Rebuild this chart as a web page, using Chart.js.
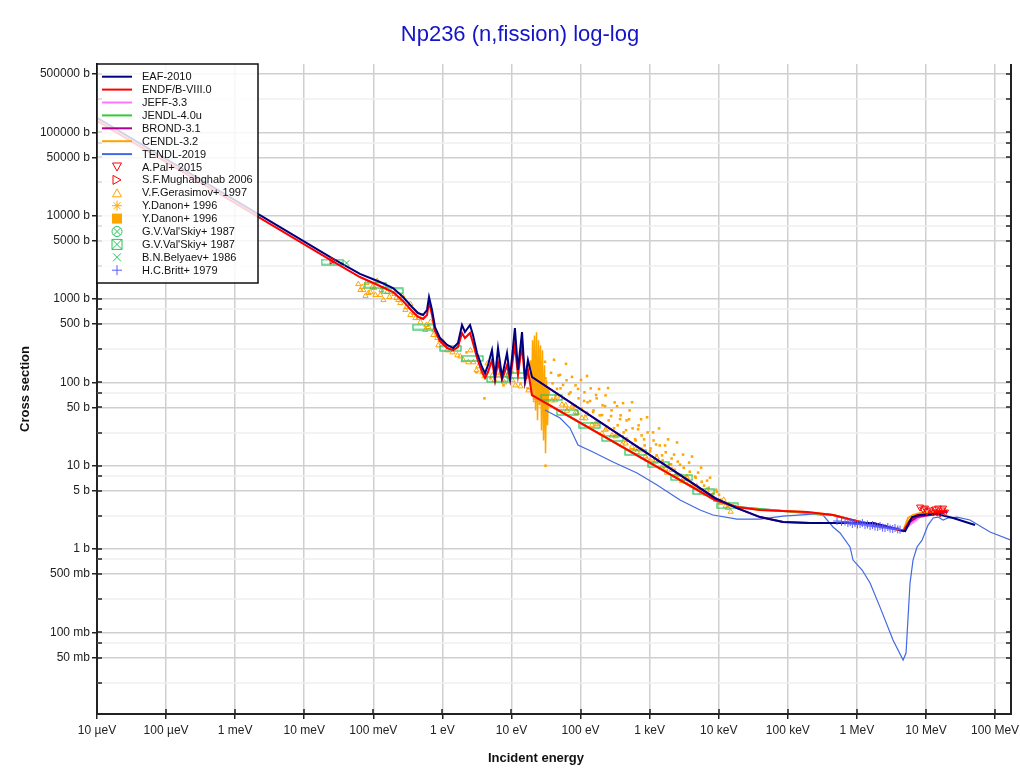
<!DOCTYPE html>
<html>
<head>
<meta charset="utf-8">
<title>Np236 (n,fission)</title>
<script src="https://cdn.jsdelivr.net/npm/chart.js@4.4.1/dist/chart.umd.min.js"></script>
<style>
  html, body { margin: 0; padding: 0; background: #fff; }
  #wrap { width: 1020px; height: 774px; }
</style>
</head>
<body>
<div id="wrap"><canvas id="chart" width="1020" height="774"></canvas></div>
<script>
// ── Axes ──────────────────────────────────────────────────
const X_MIN = 1e-5, X_MAX = 1.7e8;
const Y_MIN = 0.0105, Y_MAX = 6.6e5;
const xTickValues = [1e-5, 1e-4, 1e-3, 1e-2, 1e-1, 1, 10, 100, 1e3, 1e4, 1e5, 1e6, 1e7, 1e8];
const xTickLabels = ["10 µeV", "100 µeV", "1 meV", "10 meV", "100 meV", "1 eV", "10 eV", "100 eV", "1 keV", "10 keV", "100 keV", "1 MeV", "10 MeV", "100 MeV"];
const yTickValues = [5e5, 1e5, 5e4, 1e4, 5e3, 1e3, 500, 100, 50, 10, 5, 1, 0.5, 0.1, 0.05];
const yTickLabels = ["500000 b", "100000 b", "50000 b", "10000 b", "5000 b", "1000 b", "500 b", "100 b", "50 b", "10 b", "5 b", "1 b", "500 mb", "100 mb", "50 mb"];
const yMinorTicks = [2.5e5, 7.5e4, 2.5e4, 7500, 2500, 750, 250, 75, 25, 7.5, 2.5, 0.75, 0.25, 0.075, 0.025];

// ── Evaluations (energy in eV, cross section in b) ────────
const eafE  = [1e-5, 0.0252, 0.064, 0.125, 0.193, 0.269, 0.363, 0.444, 0.524, 0.598, 0.640, 0.707, 0.781, 0.923, 1.17, 1.43, 1.68, 1.92, 2.12, 2.51, 2.77, 3.17, 3.74, 4.14, 4.57, 5.22, 5.77, 6.38, 7.29, 8.61, 9.53, 11.2, 12.4, 14.2, 15.7, 17.3, 19.8, 8830, 1.84e4, 3.96e4, 8.53e4, 2.09e5, 1.71e6, 4.98e6, 6.28e6, 8.2e6, 1.45e7, 2.47e7, 5.13e7];
const eafXs = [1.49e5, 3100, 2000, 1600, 1355, 1057, 802, 679, 643, 738, 1057, 738, 461, 340, 281, 258, 297, 488, 402, 488, 370, 225, 153, 129, 161, 244, 116, 258, 116, 225, 116, 449, 141, 402, 107, 185, 116, 4.09, 3.10, 2.42, 2.11, 2.05, 2.05, 1.64, 2.42, 2.56, 2.63, 2.36, 1.94];

const endfE  = [1e-5, 0.0252, 0.064, 0.125, 0.193, 0.269, 0.363, 0.444, 0.524, 0.598, 0.640, 0.707, 0.781, 0.923, 1.17, 1.43, 1.68, 1.92, 2.12, 2.51, 2.77, 3.17, 3.74, 4.14, 4.57, 5.22, 5.77, 6.38, 7.29, 8.61, 9.53, 11.2, 12.4, 14.2, 15.7, 17.3, 19.8, 8830, 1.84e4, 3.96e4, 8.53e4, 1.90e5, 4.51e5, 1.11e6, 2.73e6, 4.66e6, 5.87e6, 7.41e6, 1.15e7, 2.02e7];
const endfXs = [1.37e5, 2860, 1837, 1432, 1213, 946, 718, 608, 575, 643, 920, 643, 413, 313, 258, 244, 265, 391, 340, 391, 297, 196, 133, 113, 133, 185, 107, 175, 107, 161, 107, 281, 122, 281, 100, 141, 70.5, 3.87, 3.19, 2.94, 2.86, 2.78, 2.56, 2.11, 1.84, 1.64, 2.23, 2.56, 2.63, 2.86];

const jeffE  = [19.8, 8830, 1.84e4, 8.53e4, 4.51e5, 1.11e6, 2.73e6, 4.66e6, 6.28e6, 8.2e6, 1.15e7, 2.02e7];
const jeffXs = [70.5, 3.87, 3.19, 2.86, 2.56, 2.11, 1.84, 1.66, 2.05, 2.42, 2.60, 2.80];

const jendlE  = [19.8, 8830, 1.84e4, 8.53e4, 4.51e5, 1.11e6, 2.73e6, 4.66e6, 5.87e6, 7.41e6, 1.15e7, 2.02e7];
const jendlXs = [70.5, 3.87, 3.19, 2.86, 2.56, 2.11, 1.84, 1.64, 2.23, 2.56, 2.63, 2.86];

const brondE  = [19.8, 8830, 1.84e4, 3.96e4, 8.53e4, 2.09e5, 1.71e6, 4.98e6, 5.87e6, 7.41e6, 1.15e7, 2.02e7];
const brondXs = [116, 4.09, 3.10, 2.42, 2.11, 2.05, 2.05, 1.64, 2.11, 2.42, 2.56, 2.78];

const cendlE  = [19.8, 8830, 1.84e4, 3.96e4, 8.53e4, 1.90e5, 4.51e5, 1.11e6, 2.73e6, 4.66e6, 5.5e6, 6.49e6, 8.2e6, 1.15e7, 2.02e7];
const cendlXs = [70.5, 3.87, 3.19, 2.94, 2.86, 2.78, 2.56, 2.11, 1.84, 1.64, 2.36, 2.56, 2.70, 2.78, 2.86];

const tendlE  = [30.5, 50.4, 70.3, 91.8, 151, 295, 656, 1280, 2750, 5360, 8270, 1.84e4, 3.96e4, 8.53e4, 2.32e5, 3.23e5, 4.51e5, 5.70e5, 7.95e5, 8.79e5, 1.19e6, 1.55e6, 2.16e6, 3.33e6, 4.66e6, 5.14e6, 5.87e6, 6.49e6, 7.41e6, 8.77e6, 1.07e7, 1.27e7, 1.49e7, 1.77e7, 2.08e7, 2.81e7, 4.34e7, 8.45e7, 1.70e8];
const tendlXs = [46.6, 37.3, 28.3, 17.7, 14.6, 11.1, 8.17, 5.86, 3.87, 2.94, 2.56, 2.29, 2.29, 2.49, 2.63, 2.56, 1.84, 1.56, 1.06, 0.738, 0.56, 0.391, 0.201, 0.0809, 0.0466, 0.0565, 0.391, 0.738, 1.06, 1.28, 1.94, 2.36, 2.42, 2.23, 2.36, 2.42, 2.23, 1.60, 1.28];

// ── Experiments (EXFOR) ───────────────────────────────────
const palE  = [8.20e6, 9.06e6, 9.68e6, 1.035e7, 1.15e7, 1.27e7, 1.35e7, 1.45e7, 1.49e7, 1.60e7, 1.71e7, 1.77e7, 1.89e7];
const palXs = [3.19, 3.02, 3.10, 2.86, 2.94, 2.78, 3.02, 2.78, 3.10, 2.70, 2.94, 3.10, 2.78];

const mughE  = [0.0253];
const mughXs = [2900];

const gerE  = [0.0606, 0.065, 0.069, 0.0716, 0.077, 0.0792, 0.085, 0.0905, 0.097, 0.103, 0.107, 0.114, 0.126, 0.131, 0.14, 0.149, 0.159, 0.171, 0.189, 0.2015, 0.215, 0.230, 0.246, 0.263, 0.291, 0.301, 0.343, 0.344, 0.393, 0.406, 0.449, 0.48, 0.513, 0.566, 0.586, 0.626, 0.669, 0.739, 0.764, 0.845, 0.873, 0.935, 1.03, 1.18, 1.40, 1.65, 1.82, 2.01, 2.38, 2.54, 2.81, 3.11, 3.32, 3.79, 4.06, 4.49, 5.3, 5.66, 6.9, 7.92, 8.8, 10.3, 11.4, 13.5, 17.6, 22.3,
  32.7, 38.6, 43, 45.6, 53.8, 61, 63.6, 75.1, 85, 88.7, 104.7, 118, 123.7, 146.1, 165, 172.5, 203.7, 230, 240.6, 284.2, 320, 335.6, 396.3, 450, 468.1, 552.8, 626, 652.9, 771, 870, 910.6, 1075, 1220, 1270, 1500, 1700, 1771, 2092, 2380, 2471, 2918, 3320, 3446, 4070, 4650, 4806, 5676, 6480, 6703, 7917, 9030, 1.07e4, 1.18e4, 1.26e4, 1.35e4, 1.4e4, 1.49e4];
const gerXs = [1510, 1280, 1390, 1280, 1090, 1560, 1180, 1210, 1390, 1355, 1120, 1644, 1120, 1282, 970, 1432, 1210, 1057, 1280, 1148, 1030, 973, 895, 1086, 740, 802, 643, 871, 679, 590, 592, 529, 625, 425, 488, 461, 530, 370, 425, 340, 278, 322, 302, 242, 229, 211, 205, 184, 174, 242, 174, 139, 156, 132, 118, 169, 121, 106, 128, 100, 121, 106, 92, 89.5, 80.2, 61,
  75.9, 60.7, 61, 67.6, 54.1, 53, 45.7, 50.9, 44, 43.0, 37.3, 37, 41.6, 30.6, 32, 31.4, 24.4, 27, 27.9, 23.0, 22.5, 22.9, 17.8, 18.5, 20.4, 16.8, 15.7, 14.6, 15.3, 12.9, 11.9, 12.2, 11.2, 12.5, 9.48, 9.2, 8.24, 8.92, 7.6, 7.75, 6.55, 6.4, 7.29, 5.83, 5.4, 5.65, 4.78, 4.6, 5.04, 4.26, 3.9, 3.6, 3.9, 3.3, 3.1, 3.4, 2.8];

const danLineE  = [18.85, 19.5, 20.2, 20.8, 21.5, 22.3, 23.0, 23.8, 24.6, 25.4, 26.3, 27.2, 28.1, 29.1, 30.1, 31.1, 32.1, 33.2, 34.4];
const danLineXs = [184, 69.8, 319, 60.8, 366, 46.1, 398, 35.0, 319, 53.0, 278, 26.5, 242, 20.1, 160, 14.1, 106, 30.5, 84.7];

const danE  = [26.3, 31.1, 34.4, 39.3, 43.4, 47.9, 51.3, 56.6, 62.6, 71.5, 76.4, 84.5, 93.4, 103, 114, 126, 140, 154, 171, 189, 208, 230, 255, 281, 311, 344, 380, 420, 464, 513, 566, 626, 692, 764, 845, 934, 1030, 1140, 1260, 1400, 1540, 1710, 1890, 2080, 2300, 2550, 2810, 3110, 3440, 3800, 4200, 4640, 5130, 5660, 6260, 7150, 8170, 9340, 1.07e4, 2.23, 3.11, 4.06, 4.96, 7.66, 10.3, 13.5, 17.1, 31.1,
  27.66, 30.57, 33.79, 37.34, 41.27, 45.61, 50.41, 55.71, 61.57, 68.05, 75.21, 83.12, 91.86, 101.5, 112.2, 124.0, 137.1, 151.5, 167.4, 185.0, 204.5, 226.0, 249.8, 276.1, 305.1, 337.2, 372.7, 411.9, 455.2, 503.1, 556.0, 614.5, 679.2, 750.6, 829.6, 916.9, 1013, 1120, 1238, 1368, 1512, 1671, 1847, 2041, 2256, 2493, 2755, 3045, 3366, 3720, 4111, 4544, 5022, 5550, 6134, 6779, 7492, 8280, 9151, 10114];
const danXs = [92.1, 111.7, 75.9, 97.3, 69.8, 121, 84.7, 64.3, 106, 75.9, 53.0, 92.1, 64.3, 48.8, 75.9, 57.5, 84.7, 46.1, 64.3, 40.2, 53.0, 69.8, 35.0, 46.1, 57.5, 30.5, 40.2, 25.1, 35.0, 46.1, 28.1, 20.1, 30.5, 23.1, 17.5, 25.1, 16.1, 20.1, 13.3, 17.5, 11.6, 14.5, 10.3, 12.2, 8.95, 11.2, 7.80, 9.46, 6.79, 8.47, 5.92, 7.18, 5.15, 6.43, 4.49, 5.44, 4.13, 4.88, 3.91, 229, 132, 64.3, 112, 92.1, 132, 97.3, 84.7, 10,
  126.9, 176.7, 81.5, 130.3, 186.5, 83.6, 123.1, 93.3, 166.7, 72.7, 116.3, 52.2, 83.4, 106.9, 59.8, 119.3, 59.7, 44.1, 70.5, 83.1, 40.5, 51.9, 85.4, 39.4, 28.2, 51.8, 36.2, 56.3, 26.7, 36.1, 57.8, 20.8, 27.4, 36.1, 20.7, 38.1, 14.9, 25.1, 18.0, 28.0, 13.3, 17.5, 20.7, 10.4, 13.6, 19.0, 10.3, 13.6, 7.42, 10.9, 12.9, 7.41, 8.27, 9.49, 5.77, 6.62, 7.19, 4.62, 5.15, 4.49];

const valCircE  = [0.0253];
const valCircXs = [2750];

const valBoxE  = [0.0253, 0.107, 0.189, 0.53, 1.31, 2.72, 6.26, 12.2, 38, 64.7, 135, 291, 626, 1350, 2910, 6050, 1.35e4];
const valBoxXs = [2780, 1470, 1250, 461, 256, 194, 109, 121, 66, 43.6, 30.5, 21.3, 14.5, 10.3, 7.2, 4.9, 3.3];

const belE  = [0.041];
const belXs = [2700];

const brittE  = [5.15e5, 6.0e5, 6.73e5, 7.4e5, 8.0e5, 8.6e5, 9.4e5, 1.02e6, 1.11e6, 1.2e6, 1.31e6, 1.42e6, 1.55e6, 1.68e6, 1.83e6, 2.0e6, 2.16e6, 2.35e6, 2.55e6, 2.8e6, 3.02e6, 3.3e6, 3.56e6, 3.9e6, 4.21e6];
const brittXs = [2.17, 2.11, 2.14, 2.05, 2.11, 2.0, 2.05, 1.97, 2.0, 2.05, 1.94, 1.97, 1.89, 1.94, 1.86, 1.84, 1.89, 1.81, 1.79, 1.84, 1.76, 1.74, 1.79, 1.72, 1.71];

// ── Helpers ───────────────────────────────────────────────
const FONT = "'Liberation Sans', Arial, Helvetica, sans-serif";
const ORANGE = "#ffa500", GREEN = "#25c45a";
const toPoints = (xs, ys) => xs.map((x, i) => ({ x, y: ys[i] }));
const labelFor = (vals, labels, v) => {
  const i = vals.findIndex((t) => Math.abs(t - v) / t < 1e-6);
  return i < 0 ? "" : labels[i];
};

function makeBox(w, h, color) {
  const c = document.createElement("canvas");
  c.width = w; c.height = h;
  const g = c.getContext("2d");
  g.strokeStyle = color; g.lineWidth = 1.2;
  g.strokeRect(1, 1, w - 2, h - 2);
  return c;
}

function lineSet(label, xs, ys, color, width, order) {
  return { label, data: toPoints(xs, ys), showLine: true, borderColor: color, backgroundColor: color,
    borderWidth: width, pointRadius: 0, pointHoverRadius: 0, tension: 0, order, mark: "line" };
}
function markSet(label, xs, ys, mark, color, opts) {
  return Object.assign({ label, data: toPoints(xs, ys), showLine: false, borderColor: color,
    backgroundColor: "rgba(0,0,0,0)", borderWidth: 1, pointHoverRadius: 0, mark, markColor: color }, opts);
}

function drawMarker(g, mark, x, y, color) {
  g.save();
  g.strokeStyle = color; g.fillStyle = color; g.lineWidth = 1;
  g.beginPath();
  if (mark === "triDown") { g.moveTo(x - 4.5, y - 4); g.lineTo(x + 4.5, y - 4); g.lineTo(x, y + 4); g.closePath(); g.stroke(); }
  else if (mark === "triRight") { g.moveTo(x - 4, y - 4.5); g.lineTo(x - 4, y + 4.5); g.lineTo(x + 4, y); g.closePath(); g.stroke(); }
  else if (mark === "triUp") { g.moveTo(x - 4.5, y + 4); g.lineTo(x + 4.5, y + 4); g.lineTo(x, y - 4); g.closePath(); g.stroke(); }
  else if (mark === "star") {
    g.moveTo(x - 5, y); g.lineTo(x + 5, y); g.moveTo(x, y - 5); g.lineTo(x, y + 5);
    g.moveTo(x - 3.5, y - 3.5); g.lineTo(x + 3.5, y + 3.5); g.moveTo(x - 3.5, y + 3.5); g.lineTo(x + 3.5, y - 3.5); g.stroke();
  }
  else if (mark === "square") { g.fillRect(x - 5, y - 5, 10, 10); }
  else if (mark === "circX") {
    g.arc(x, y, 5, 0, Math.PI * 2); g.moveTo(x - 3.5, y - 3.5); g.lineTo(x + 3.5, y + 3.5);
    g.moveTo(x - 3.5, y + 3.5); g.lineTo(x + 3.5, y - 3.5); g.stroke();
  }
  else if (mark === "boxX") {
    g.rect(x - 5, y - 5, 10, 10); g.moveTo(x - 5, y - 5); g.lineTo(x + 5, y + 5);
    g.moveTo(x - 5, y + 5); g.lineTo(x + 5, y - 5); g.stroke();
  }
  else if (mark === "x") { g.moveTo(x - 4, y - 4); g.lineTo(x + 4, y + 4); g.moveTo(x - 4, y + 4); g.lineTo(x + 4, y - 4); g.stroke(); }
  else if (mark === "plus") { g.moveTo(x - 5, y); g.lineTo(x + 5, y); g.moveTo(x, y - 5); g.lineTo(x, y + 5); g.stroke(); }
  g.restore();
}

// ── Datasets ──────────────────────────────────────────────
const datasets = [
  lineSet("EAF-2010", eafE, eafXs, "#000080", 2, 1),
  lineSet("ENDF/B-VIII.0", endfE, endfXs, "#ff0000", 2, 2),
  lineSet("JEFF-3.3", jeffE, jeffXs, "#ff77ff", 2, 6),
  lineSet("JENDL-4.0u", jendlE, jendlXs, "#33cc33", 2, 5),
  lineSet("BROND-3.1", brondE, brondXs, "#b0008f", 2, 3),
  lineSet("CENDL-3.2", cendlE, cendlXs, ORANGE, 2, 4),
  lineSet("TENDL-2019", tendlE, tendlXs, "#4169e1", 1.2, 7),
  markSet("A.Pal+ 2015", palE, palXs, "triDown", "#ff0000", { pointStyle: "triangle", rotation: 180, pointRadius: 4, order: 0 }),
  markSet("S.F.Mughabghab 2006", mughE, mughXs, "triRight", "#ff0000", { pointStyle: "triangle", rotation: 90, pointRadius: 4, order: 0 }),
  markSet("V.F.Gerasimov+ 1997", gerE, gerXs, "triUp", ORANGE, { pointStyle: "triangle", pointRadius: 3, order: 12 }),
  markSet("Y.Danon+ 1996", danLineE, danLineXs, "star", ORANGE, { showLine: true, borderWidth: 1.5, pointRadius: 0, order: 13 }),
  markSet("Y.Danon+ 1996", danE, danXs, "square", ORANGE, { pointStyle: "rect", pointRadius: 1.8, borderWidth: 0, backgroundColor: ORANGE, order: 14 }),
  markSet("G.V.Val'Skiy+ 1987", valCircE, valCircXs, "circX", GREEN, { pointStyle: "crossRot", pointRadius: 3, order: 9 }),
  markSet("G.V.Val'Skiy+ 1987", valBoxE, valBoxXs, "boxX", GREEN, { pointStyle: makeBox(23, 7, GREEN), order: 9 }),
  markSet("B.N.Belyaev+ 1986", belE, belXs, "x", GREEN, { pointStyle: "crossRot", pointRadius: 4, order: 0 }),
  markSet("H.C.Britt+ 1979", brittE, brittXs, "plus", "#5a5aff", { pointStyle: "cross", pointRadius: 4, order: 0 })
];

// ── Minor grid, frame, titles and legend ──────────────────
const framePlugin = {
  id: "frame",
  beforeDatasetsDraw(chart) {
    const g = chart.ctx, a = chart.chartArea, ys = chart.scales.y;
    g.save();
    g.strokeStyle = "#efefef"; g.lineWidth = 1.5;
    g.beginPath();
    yMinorTicks.forEach((v) => {
      const py = Math.round(ys.getPixelForValue(v));
      g.moveTo(a.left, py); g.lineTo(a.right, py);
    });
    g.stroke();
    g.restore();
  },
  afterDraw(chart) {
    const g = chart.ctx, a = chart.chartArea;
    const xs = chart.scales.x, ys = chart.scales.y;
    g.save();
    // title
    g.fillStyle = "#1414c8";
    g.font = `22px ${FONT}`;
    g.textAlign = "center"; g.textBaseline = "middle";
    g.fillText("Np236 (n,fission) log-log", 520, 35);
    // axis titles
    g.fillStyle = "#111";
    g.font = `bold 13px ${FONT}`;
    g.fillText("Incident energy", 536, 758);
    g.translate(25, (a.top + a.bottom) / 2);
    g.rotate(-Math.PI / 2);
    g.fillText("Cross section", 0, 0);
    g.setTransform(1, 0, 0, 1, 0, 0);
    // right border
    g.strokeStyle = "#222"; g.lineWidth = 2;
    g.beginPath(); g.moveTo(a.right, a.top); g.lineTo(a.right, a.bottom + 1); g.stroke();
    // inward ticks
    g.lineWidth = 1.5;
    g.beginPath();
    yTickValues.concat(yMinorTicks).forEach((v) => {
      const py = Math.round(ys.getPixelForValue(v));
      g.moveTo(a.left, py); g.lineTo(a.left + 5, py);
      g.moveTo(a.right, py); g.lineTo(a.right - 5, py);
    });
    xTickValues.forEach((v) => {
      const px = Math.round(xs.getPixelForValue(v));
      g.moveTo(px, a.bottom); g.lineTo(px, a.bottom - 5);
    });
    g.stroke();
    // legend box
    const lx = a.left, ly = a.top, lw = 161, lh = 219, row = 12.9;
    g.fillStyle = "rgba(255,255,255,0.82)";
    g.fillRect(lx, ly, lw, lh);
    g.strokeStyle = "#111"; g.lineWidth = 1.5;
    g.strokeRect(lx, ly, lw, lh);
    g.font = `11px ${FONT}`;
    g.textAlign = "left"; g.textBaseline = "middle";
    chart.data.datasets.forEach((ds, i) => {
      const cy = ly + 12.7 + i * row;
      if (ds.mark === "line") {
        g.strokeStyle = ds.borderColor; g.lineWidth = 2;
        g.beginPath(); g.moveTo(lx + 5, cy); g.lineTo(lx + 35, cy); g.stroke();
      } else {
        drawMarker(g, ds.mark, lx + 20, cy, ds.markColor);
      }
      g.fillStyle = "#111";
      g.fillText(ds.label, lx + 45, cy + 0.5);
    });
    g.restore();
  }
};

// ── Chart ─────────────────────────────────────────────────
new Chart(document.getElementById("chart"), {
  type: "scatter",
  data: { datasets },
  options: {
    responsive: false,
    animation: false,
    events: [],
    layout: { padding: { left: 0, right: 9, top: 64, bottom: 0 } },
    plugins: { legend: { display: false }, tooltip: { enabled: false }, title: { display: false } },
    scales: {
      x: {
        type: "logarithmic", min: X_MIN, max: X_MAX,
        afterBuildTicks: (s) => { s.ticks = xTickValues.map((v) => ({ value: v })); },
        afterFit: (s) => { s.height = 60; s.paddingLeft = 0; s.paddingRight = 0; },
        ticks: {
          autoSkip: false, maxRotation: 0, padding: 4, color: "#222", font: { family: FONT, size: 12 },
          callback: (v) => labelFor(xTickValues, xTickLabels, v)
        },
        grid: { color: "#cfcfcf", lineWidth: 1.5, tickLength: 5, tickColor: "#222", tickWidth: 1.5 },
        border: { color: "#222", width: 2 }
      },
      y: {
        type: "logarithmic", min: Y_MIN, max: Y_MAX,
        afterBuildTicks: (s) => { s.ticks = yTickValues.slice().sort((p, q) => p - q).map((v) => ({ value: v })); },
        afterFit: (s) => { s.width = 97; s.paddingTop = 0; s.paddingBottom = 0; },
        ticks: {
          autoSkip: false, padding: 2, color: "#222", font: { family: FONT, size: 12 },
          callback: (v) => labelFor(yTickValues, yTickLabels, v)
        },
        grid: { color: "#cfcfcf", lineWidth: 1.5, tickLength: 5, tickColor: "#222", tickWidth: 1.5 },
        border: { color: "#222", width: 2 }
      }
    }
  },
  plugins: [framePlugin]
});
</script>
</body>
</html>
